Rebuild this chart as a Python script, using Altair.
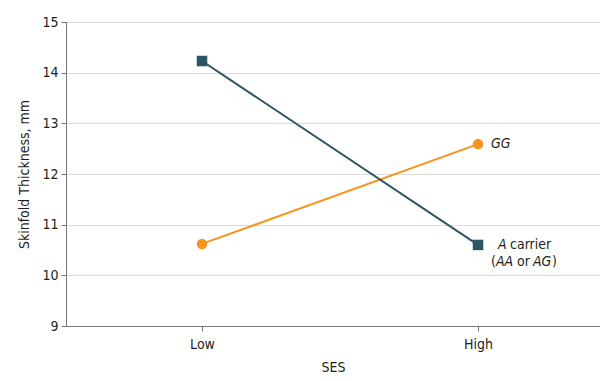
import altair as alt
import pandas as pd

ses = ["Low", "High"]
gg = [10.62, 12.59]
a_carrier = [14.23, 10.60]
series_names = ["GG", "A carrier"]
colors = ["#f7941d", "#2c5566"]

rows = []
for i, s in enumerate(ses):
    rows.append({"ses": s, "pos": i, "series": "GG", "value": gg[i]})
    rows.append({"ses": s, "pos": i, "series": "A carrier", "value": a_carrier[i]})
df = pd.DataFrame(rows)

FONT = "DejaVu Sans Condensed"
TXT = "#231f20"

x = alt.X(
    "pos:Q",
    scale=alt.Scale(domain=[-0.4928, 1.442], nice=False, zero=False),
    axis=alt.Axis(
        values=[0, 1],
        labelExpr="datum.value == 0 ? 'Low' : 'High'",
        title="SES",
        grid=False,
        tickSize=5,
        tickColor="#777777",
        domainColor="#777777",
        labelPadding=6,
        titlePadding=9,
    ),
)
y = alt.Y(
    "value:Q",
    scale=alt.Scale(domain=[9, 15], nice=False, zero=False),
    axis=alt.Axis(
        values=[9, 10, 11, 12, 13, 14, 15],
        title="Skinfold Thickness, mm",
        grid=True,
        gridColor="#dcdcdc",
        gridWidth=1.2,
        tickSize=5,
        tickColor="#777777",
        domainColor="#777777",
        labelPadding=3,
        titlePadding=10,
    ),
)
color = alt.Color("series:N", scale=alt.Scale(domain=series_names, range=colors), legend=None)
shape = alt.Shape("series:N", scale=alt.Scale(domain=series_names, range=["circle", "square"]), legend=None)

base = alt.Chart(df)
lines = base.mark_line(strokeWidth=2).encode(x=x, y=y, color=color, detail="series:N")
points = base.mark_point(filled=True, size=110, opacity=1).encode(x=x, y=y, color=color, shape=shape)

hi = base.transform_filter("datum.pos == 1")
def lab(txt, series, dx, dy, italic=False):
    return hi.transform_filter(f"datum.series == '{series}'").mark_text(
        text=txt, align="left", baseline="middle", dx=dx, dy=dy,
        font=FONT, fontSize=14, fontStyle="italic" if italic else "normal", color=TXT
    ).encode(x=alt.X("pos:Q"), y=alt.Y("value:Q"))

labels = [
    lab("GG", "GG", 13, 0, True),
    lab("A", "A carrier", 20, 0, True),
    lab("carrier", "A carrier", 32, 0),
    lab("(", "A carrier", 13, 17),
    lab("AA", "A carrier", 18, 17, True),
    lab("or", "A carrier", 39, 17),
    lab("AG", "A carrier", 55, 17, True),
    lab(")", "A carrier", 74, 17),
]

chart = alt.layer(lines, points, *labels).properties(
    width=534, height=304,
    autosize=alt.AutoSizeParams(type="none"),
    padding={"left": 58, "top": 14, "right": 0, "bottom": 47},
).configure_view(stroke=None).configure_axis(
    labelFont=FONT, titleFont=FONT, labelFontSize=14, titleFontSize=14,
    labelColor=TXT, titleColor=TXT, titleFontWeight="normal",
)

chart.save("out.html", embed_options={"renderer": "svg", "actions": False})
